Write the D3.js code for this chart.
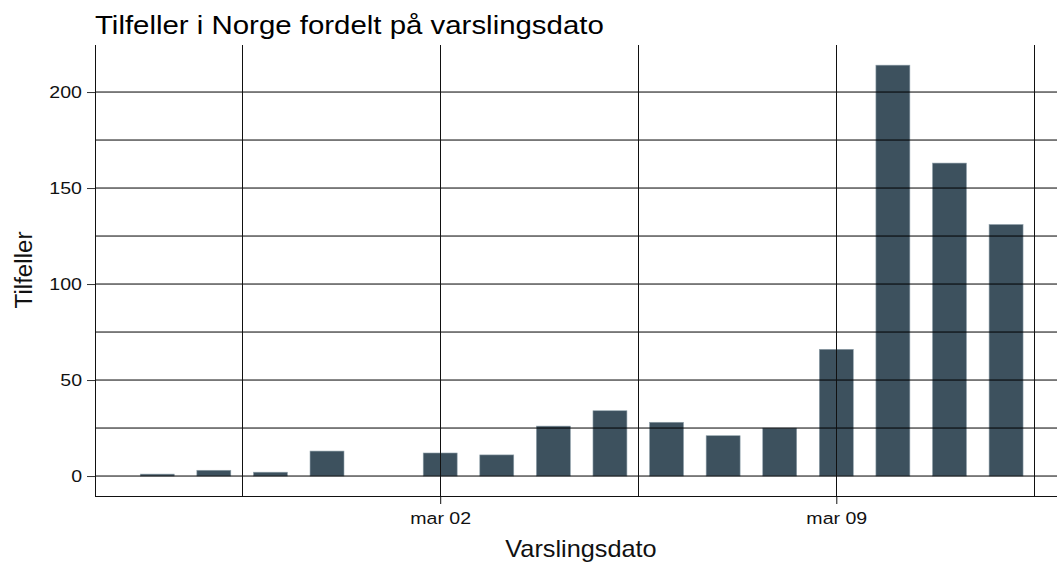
<!DOCTYPE html>
<html>
<head>
<meta charset="utf-8">
<script src="https://cdn.jsdelivr.net/npm/d3@7"></script>
<style>
  body { margin: 0; background: #fff; }
  text { font-family: "Liberation Sans", Arial, sans-serif; }
</style>
</head>
<body>
<div id="chart"></div>
<script>
// data -------------------------------------------------------------------
const dates = ['2020-02-26', '2020-02-27', '2020-02-28', '2020-02-29', '2020-03-01',
  '2020-03-02', '2020-03-03', '2020-03-04', '2020-03-05', '2020-03-06', '2020-03-07',
  '2020-03-08', '2020-03-09', '2020-03-10', '2020-03-11', '2020-03-12'];
const cases = [1, 3, 2, 13, 0, 12, 11, 26, 34, 28, 21, 25, 66, 214, 163, 131];
const xTicks = ['2020-03-02', '2020-03-09'];
const yTicks = [0, 50, 100, 150, 200];

const parse = d3.timeParse('%Y-%m-%d');
const data = dates.map((d, i) => ({date: parse(d), value: cases[i]}));

// chart ------------------------------------------------------------------
const W = 1057, H = 562;
const margin = {top: 45, right: 0, bottom: 66, left: 95};
const width = W - margin.left - margin.right;
const height = H - margin.top - margin.bottom;
const DAY = 864e5;

const svg = d3.select('#chart')
  .append('svg')
  .attr('width', W)
  .attr('height', H);

const g = svg.append('g')
  .attr('transform', 'translate(' + margin.left + ',' + margin.top + ')');

const x = d3.scaleTime()
  .domain([+parse('2020-02-26') - 1.1 * DAY, +parse('2020-03-12') + 0.9 * DAY])
  .range([0, width]);

const y = d3.scaleLinear()
  .domain([-10.4, 224.5])
  .range([height, 0]);

const barW = (x(new Date(0.6 * DAY)) - x(new Date(0)));

// bars
g.selectAll('.bar')
  .data(data)
  .enter()
  .append('rect')
  .attr('class', 'bar')
  .attr('x', d => x(d.date) - barW / 2)
  .attr('width', barW)
  .attr('y', d => y(d.value))
  .attr('height', d => y(0) - y(d.value))
  .attr('fill', '#3d515e')
  .attr('stroke', '#8fa0aa')
  .attr('stroke-width', 0.6);

// horizontal grid (every 25)
const hGrid = d3.range(0, 225, 25);
g.selectAll('.hgrid')
  .data(hGrid)
  .enter()
  .append('line')
  .attr('x1', 0)
  .attr('x2', width)
  .attr('y1', d => y(d))
  .attr('y2', d => y(d))
  .attr('stroke', '#000')
  .attr('stroke-width', 1);

// vertical grid (every 3.5 days)
const vGrid = d3.range(-3.5, 11, 3.5).map(k => new Date(+parse('2020-03-02') + k * DAY));
g.selectAll('.vgrid')
  .data(vGrid)
  .enter()
  .append('line')
  .attr('x1', d => Math.round(x(d)) + 0.5)
  .attr('x2', d => Math.round(x(d)) + 0.5)
  .attr('y1', 0)
  .attr('y2', height)
  .attr('stroke', '#111')
  .attr('stroke-width', 1);

// stretch text horizontally (reference glyphs are wider than Liberation Sans)
function stretch(sel, sx) {
  sel.each(function() {
    const t = d3.select(this);
    const tx = +t.attr('x') || 0;
    t.attr('x', tx / sx).attr('transform', 'scale(' + sx + ',1)');
  });
}

// axes
const yAxis = d3.axisLeft(y).tickValues(yTicks).tickSize(8).tickPadding(5);
const yG = g.append('g').call(yAxis);
yG.select('.domain').attr('d', 'M0.5,0V' + height).attr('stroke', '#111');
yG.selectAll('.tick line').attr('stroke', '#333');
yG.selectAll('.tick text').attr('font-size', 16.3).attr('fill', '#111')
  .style('font-family', '"Liberation Sans", Arial, sans-serif')
  .call(stretch, 1.2);

const xAxis = d3.axisBottom(x)
  .tickValues(xTicks.map(parse))
  .tickFormat(d => 'mar ' + d3.timeFormat('%d')(d))
  .tickSize(8).tickPadding(8);
const xG = g.append('g')
  .attr('transform', 'translate(0,' + height + ')')
  .call(xAxis);
xG.select('.domain').attr('d', 'M0,0.5H' + width).attr('stroke', '#111');
xG.selectAll('.tick line').attr('stroke', '#111');
xG.selectAll('.tick text').attr('font-size', 16.3).attr('fill', '#111')
  .style('font-family', '"Liberation Sans", Arial, sans-serif')
  .call(stretch, 1.2);

// titles
svg.append('g').attr('transform', 'translate(' + margin.left + ',34)')
  .append('text')
  .attr('font-size', 26.5)
  .attr('fill', '#000')
  .attr('transform', 'scale(1.11,1)')
  .text('Tilfeller i Norge fordelt på varslingsdato');

svg.append('g').attr('transform', 'translate(581,557)')
  .append('text')
  .attr('text-anchor', 'middle')
  .attr('font-size', 23)
  .attr('fill', '#111')
  .attr('transform', 'scale(1.1,1)')
  .text('Varslingsdato');

svg.append('g').attr('transform', 'translate(32,270) rotate(-90)')
  .append('text')
  .attr('text-anchor', 'middle')
  .attr('font-size', 23)
  .attr('fill', '#111')
  .attr('transform', 'scale(1.05,1)')
  .text('Tilfeller');
</script>
</body>
</html>
